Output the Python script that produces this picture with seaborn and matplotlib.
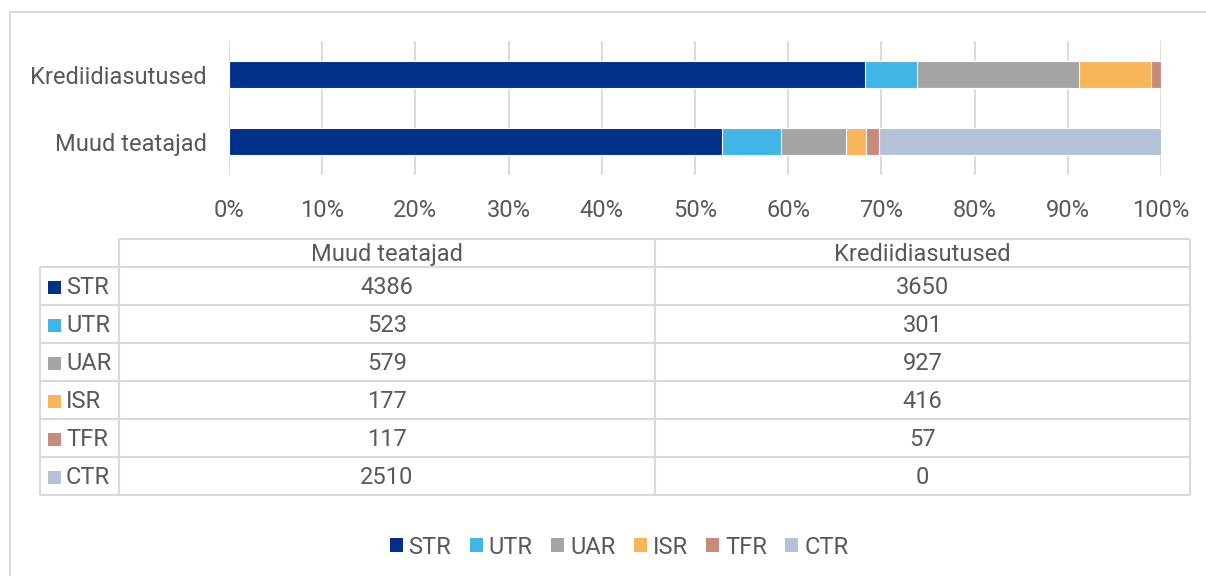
import pandas as pd
import numpy as np
import matplotlib.pyplot as plt
import seaborn as sns
from matplotlib.patches import Patch, Rectangle

# data
categories = ['Krediidiasutused', 'Muud teatajad']
series = ['STR', 'UTR', 'UAR', 'ISR', 'TFR', 'CTR']
kredi_values = [3650, 301, 927, 416, 57, 0]
muud_values = [4386, 523, 579, 177, 117, 2510]
table_columns = ['Muud teatajad', 'Krediidiasutused']
colors = ['#003087', '#41B6E6', '#A5A5A5', '#F8B55A', '#C78B7B', '#B4C1D6']

sns.set_theme(style='white')
plt.rcParams['font.family'] = ['Roboto', 'DejaVu Sans']
txt = '#595959'
grid_c = '#D9D9D9'
fs = 17

W, H = 1206, 576
fig = plt.figure(figsize=(W / 100, H / 100), dpi=100)

def px_axes(x0, y0, x1, y1):
    return fig.add_axes([x0 / W, 1 - y1 / H, (x1 - x0) / W, (y1 - y0) / H])

# outer frame
fig.patches.append(Rectangle((10 / W, -0.1), 1.2, 1 - 12 / H + 0.1, transform=fig.transFigure,
                             fill=False, edgecolor=grid_c, lw=1.5))

# percentages -> cumulative, drawn back to front
df = pd.DataFrame({'Krediidiasutused': kredi_values, 'Muud teatajad': muud_values}, index=series)
pct = df / df.sum() * 100
cum = pct.cumsum()

ax = px_axes(229, 41, 1161, 175)
for i in range(len(series) - 1, -1, -1):
    d = pd.DataFrame({'kat': categories, 'v': [cum.loc[series[i], c] for c in categories]})
    sns.barplot(data=d, x='v', y='kat', color=colors[i], width=0.4, orient='h', saturation=1,
                edgecolor='white', linewidth=0.8, ax=ax, zorder=3, order=categories)

ax.set_xlim(0, 100)
ax.set_ylim(1.5, -0.5)
ax.set_xticks(np.arange(0, 101, 10))
ax.set_xticklabels([f'{t}%' for t in range(0, 101, 10)])
ax.xaxis.grid(True, color=grid_c, lw=1.3, zorder=0)
ax.tick_params(axis='x', length=0, pad=17, labelsize=fs, labelcolor=txt)
ax.tick_params(axis='y', length=0, pad=16, labelsize=fs, labelcolor=txt)
ax.set_xlabel('')
ax.set_ylabel('')
for s in ax.spines.values():
    s.set_visible(False)

# data table
tax = px_axes(40, 238, 1190, 496)
tax.set_xlim(40, 1190)
tax.set_ylim(496, 238)
tax.axis('off')
col_x = [40, 119, 655, 1190]
row_y = [239, 267] + [267 + 38 * (k + 1) for k in range(len(series))]
lk = dict(color=grid_c, lw=1.5, solid_capstyle='butt', clip_on=False)
tax.plot([119, 1190], [row_y[0], row_y[0]], **lk)
for y in row_y[1:]:
    tax.plot([40, 1190], [y, y], **lk)
tax.plot([40, 40], [row_y[1], row_y[-1]], **lk)
for x in col_x[1:]:
    tax.plot([x, x], [row_y[0], row_y[-1]], **lk)

for j, name in enumerate(table_columns):
    tax.text((col_x[j + 1] + col_x[j + 2]) / 2, (row_y[0] + row_y[1]) / 2 + 1, name,
             ha='center', va='center', fontsize=fs, color=txt)
for k, s in enumerate(series):
    yc = (row_y[k + 1] + row_y[k + 2]) / 2 + 1
    tax.add_patch(Rectangle((48, yc - 6.5), 13, 13, color=colors[k], lw=0))
    tax.text(66, yc, s, ha='left', va='center', fontsize=fs, color=txt)
    for j, name in enumerate(table_columns):
        tax.text((col_x[j + 1] + col_x[j + 2]) / 2, yc, str(df.loc[s, name]),
                 ha='center', va='center', fontsize=fs, color=txt)

# legend
handles = [Patch(facecolor=c, edgecolor='none') for c in colors]
fig.legend(handles, series, loc='center', bbox_to_anchor=(619 / W, 1 - 547 / H), ncol=6,
           frameon=False, fontsize=fs, labelcolor=txt, handlelength=0.55, handleheight=0.55,
           handletextpad=0.25, columnspacing=0.78)

fig.savefig('out.png', dpi=100)
